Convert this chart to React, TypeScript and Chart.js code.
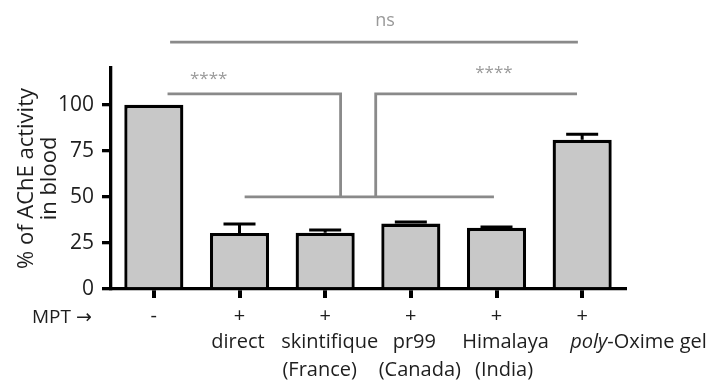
import React, { useEffect, useRef } from "react";
import { Chart, registerables } from "chart.js";

Chart.register(...registerables);

// ---- data ----
const mptMarks = ["-", "+", "+", "+", "+", "+"];
const productNames = ["", "direct", "skintifique", "pr99", "Himalaya", "poly-Oxime gel"];
const productOrigins = ["", "", "(France)", "(Canada)", "(India)", ""];
const activityMeans = [100, 30.4, 30.5, 35.5, 33.2, 81];
const activityErrors = [0, 4.9, 1.6, 0.9, 0.5, 3];
const yTickStep = 25;
const yMax = 120;
const yTitle = ["% of AChE activity", "in blood"];
const rowLabel = "MPT \u2192";

// significance annotations (category index / value units)
const sigTexts = ["ns", "****", "****"];
const nsLine = { x0: 0.19, x1: 4.95, y: 134, textX: 2.7, textY: 145.5 };
const leftBracket = { x0: 0.16, x1: 2.18, y: 106, drop: 50, textX: 0.64, textY: 114 };
const rightBracket = { x0: 2.59, x1: 4.94, y: 106, drop: 50, textX: 3.97, textY: 117 };
const baseLine = { x0: 1.06, x1: 3.97, y: 50 };

// label layout tweaks (px)
const nameOffsets = [0, -1.5, 4.5, 3.5, 9, 0];
const originOffsets = [0, 0, -5.5, 9, 7.5, 0];

const FONT = "'Open Sans', 'DejaVu Sans', sans-serif";
const TEXT = "#1e1e1e";
const GRAY = "#8a8a8a";
const STAR_GRAY = "#9a9a9a";

const errorBars = {
  id: "errorBars",
  afterDatasetsDraw(chart: any) {
    const { ctx, scales } = chart;
    const meta = chart.getDatasetMeta(0);
    ctx.save();
    ctx.strokeStyle = "#000";
    ctx.lineWidth = 3;
    activityMeans.forEach((m, i) => {
      const e = activityErrors[i];
      if (!e) return;
      const x = meta.data[i].x;
      const y0 = scales.y.getPixelForValue(m);
      const y1 = scales.y.getPixelForValue(m + e);
      ctx.beginPath();
      ctx.moveTo(x, y0);
      ctx.lineTo(x, y1);
      ctx.moveTo(x - 16, y1);
      ctx.lineTo(x + 16, y1);
      ctx.stroke();
    });
    ctx.restore();
  },
};

const annotations = {
  id: "annotations",
  afterDraw(chart: any) {
    const { ctx, scales } = chart;
    const xs = scales.x;
    const ys = scales.y;
    const px = (v: number) => xs.getPixelForValue(v);
    const py = (v: number) => ys.getPixelForValue(v);
    ctx.save();
    ctx.strokeStyle = GRAY;
    ctx.lineWidth = 2.8;
    ctx.beginPath();
    // ns
    ctx.moveTo(px(nsLine.x0), py(nsLine.y));
    ctx.lineTo(px(nsLine.x1), py(nsLine.y));
    // left bracket
    ctx.moveTo(px(leftBracket.x0), py(leftBracket.y));
    ctx.lineTo(px(leftBracket.x1), py(leftBracket.y));
    ctx.lineTo(px(leftBracket.x1), py(leftBracket.drop));
    // right bracket
    ctx.moveTo(px(rightBracket.x1), py(rightBracket.y));
    ctx.lineTo(px(rightBracket.x0), py(rightBracket.y));
    ctx.lineTo(px(rightBracket.x0), py(rightBracket.drop));
    // base
    ctx.moveTo(px(baseLine.x0), py(baseLine.y));
    ctx.lineTo(px(baseLine.x1), py(baseLine.y));
    ctx.stroke();

    ctx.textAlign = "center";
    ctx.textBaseline = "middle";
    ctx.fillStyle = "#999";
    ctx.font = `18px ${FONT}`;
    ctx.fillText(sigTexts[0], px(nsLine.textX), py(nsLine.textY));
    ctx.fillStyle = STAR_GRAY;
    ctx.font = `17px ${FONT}`;
    ctx.fillText(sigTexts[1], px(leftBracket.textX), py(leftBracket.textY));
    ctx.fillText(sigTexts[2], px(rightBracket.textX), py(rightBracket.textY));

    // x labels
    const bottom = chart.chartArea.bottom;
    ctx.fillStyle = TEXT;
    ctx.textBaseline = "alphabetic";
    ctx.font = `20px ${FONT}`;
    mptMarks.forEach((m, i) => {
      const x = px(i);
      ctx.textAlign = "center";
      ctx.fillText(m, x, bottom + 33);
      const name = productNames[i];
      if (name) {
        if (name.startsWith("poly")) {
          ctx.textAlign = "left";
          let sx = x - 12;
          ctx.font = `italic 20px ${FONT}`;
          ctx.fillText("poly", sx, bottom + 59);
          sx += ctx.measureText("poly").width;
          ctx.font = `20px ${FONT}`;
          ctx.fillText(name.slice(4), sx, bottom + 59);
        } else {
          ctx.textAlign = "center";
          ctx.fillText(name, x + nameOffsets[i], bottom + 59);
        }
      }
      const origin = productOrigins[i];
      if (origin) {
        ctx.textAlign = "center";
        ctx.fillText(origin, x + originOffsets[i], bottom + 87);
      }
    });
    ctx.textAlign = "left";
    ctx.font = `19px ${FONT}`;
    ctx.fillText(rowLabel, 32, bottom + 34);
    ctx.restore();
  },
};

export default function App() {
  const ref = useRef<HTMLCanvasElement | null>(null);
  useEffect(() => {
    document.body.style.margin = "0";
    if (!ref.current) return;
    const chart = new Chart(ref.current, {
      type: "bar",
      data: {
        labels: productNames.map((n, i) => n || mptMarks[i]),
        datasets: [
          {
            data: activityMeans,
            backgroundColor: "#c8c8c8",
            borderColor: "#000",
            borderWidth: 3.3,
            barPercentage: 0.69,
            categoryPercentage: 1,
          },
        ],
      },
      options: {
        responsive: false,
        animation: false,
        layout: { padding: { top: 68, right: 87, left: 0, bottom: 0 } },
        plugins: { legend: { display: false }, tooltip: { enabled: false } },
        scales: {
          x: {
            grid: {
              display: true,
              offset: false,
              drawOnChartArea: false,
              drawTicks: true,
              tickLength: 9,
              lineWidth: 4,
              color: "#000",
            },
            border: { display: true, width: 3.3, color: "#000" },
            ticks: { display: false },
            afterFit: (s: any) => {
              s.height = 93;
            },
          },
          y: {
            min: 0,
            max: yMax,
            ticks: {
              stepSize: yTickStep,
              includeBounds: false,
              font: { family: FONT, size: 21 },
              color: TEXT,
              padding: 8,
            },
            grid: {
              drawOnChartArea: false,
              drawTicks: true,
              tickLength: 9,
              lineWidth: 3.3,
              color: "#000",
            },
            border: { display: true, width: 3.3, color: "#000" },
            title: {
              display: true,
              text: yTitle,
              font: { family: FONT, size: 22, lineHeight: 1.05 },
              color: TEXT,
              padding: { top: 15, bottom: 0 },
            },
            afterFit: (s: any) => {
              s.width = 111;
            },
          },
        },
      } as any,
      plugins: [errorBars, annotations],
    });
    return () => chart.destroy();
  }, []);
  return (
    <div style={{ width: 712, height: 382 }}>
      <canvas ref={ref} width={712} height={382} />
    </div>
  );
}
